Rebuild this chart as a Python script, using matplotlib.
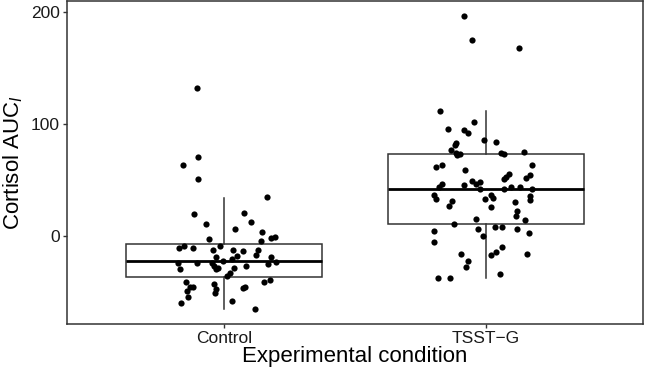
import matplotlib
matplotlib.use("Agg")
import matplotlib.pyplot as plt
import numpy as np

plt.rcParams['font.family'] = ['Liberation Sans', 'DejaVu Sans']
plt.rcParams['mathtext.fontset'] = 'custom'
plt.rcParams['mathtext.rm'] = 'Liberation Sans'
plt.rcParams['mathtext.it'] = 'Liberation Sans:italic'

categories = ["Control", "TSST\u2212G"]

# box statistics (whislo, q1, median, q3, whishi)
control_stats = [-65.6, -37.2, -22.4, -7.2, 34.0]
tsst_stats = [-37.6, 10.5, 42.1, 72.9, 111.6]

# jittered points: horizontal offset and value
control_dx = [-0.103, -0.098, -0.157, -0.098, 0.165, -0.113, 0.076, -0.070, 0.104, 0.044,
              0.146, -0.056, 0.143, 0.179, 0.193, -0.171, -0.151, -0.117, -0.015, -0.042,
              0.033, 0.073, 0.129, 0.122, -0.029, 0.051, 0.032, -0.005, -0.175, -0.103,
              -0.045, -0.038, 0.179, 0.167, 0.197, 0.084, -0.167, -0.024, -0.032, 0.038,
              0.023, 0.010, -0.146, -0.038, 0.152, 0.174, -0.129, -0.118, -0.032, -0.034,
              0.079, 0.072, -0.140, -0.138, -0.165, 0.029, 0.118]
control_y = [132.5, 70.2, 63.0, 51.0, 34.4, 19.2, 20.3, 10.5, 12.0, 6.0,
             3.0, -3.2, -4.7, -2.3, -1.2, -11.0, -9.2, -11.0, -9.2, -12.8,
             -12.5, -13.4, -12.8, -17.5, -18.8, -18.4, -20.9, -22.4, -24.7, -24.4,
             -24.7, -26.9, -19.3, -25.3, -23.5, -26.9, -29.8, -28.9, -29.8, -28.9,
             -33.7, -36.1, -41.7, -43.0, -41.7, -39.4, -46.2, -46.2, -48.0, -51.0,
             -45.9, -46.8, -49.2, -55.1, -60.5, -58.5, -65.9]

tsst_dx = [-0.086, -0.052, 0.127, -0.175, -0.147, -0.046, -0.084, -0.067, -0.009, 0.039,
           -0.114, -0.119, -0.132, -0.116, -0.100, -0.112, 0.056, 0.068, 0.146, -0.192,
           -0.169, 0.176, -0.080, 0.068, 0.076, 0.086, 0.153, 0.169, -0.053, -0.040,
           -0.023, -0.084, -0.169, -0.178, -0.023, 0.070, 0.095, 0.128, 0.174, -0.199,
           -0.192, -0.129, -0.141, -0.003, 0.018, 0.028, 0.018, 0.109, 0.169, 0.166,
           0.119, 0.114, 0.148, -0.037, -0.121, -0.032, 0.033, 0.059, 0.120, 0.165,
           -0.199, -0.199, -0.010, -0.097, -0.068, -0.075, 0.020, 0.039, 0.059, 0.158,
           -0.184, -0.137, 0.052]
tsst_y = [197.0, 174.9, 168.0, 111.9, 95.8, 101.8, 94.4, 92.2, 85.7, 83.6,
          83.0, 81.5, 76.7, 74.3, 73.4, 72.5, 74.3, 73.1, 74.9, 61.5,
          63.0, 63.3, 58.8, 50.8, 52.8, 55.2, 51.4, 54.6, 48.7, 46.6,
          48.1, 45.7, 46.3, 43.3, 42.1, 41.5, 43.9, 43.9, 42.1, 36.4,
          33.1, 31.1, 26.3, 32.9, 36.4, 33.5, 26.0, 30.2, 35.8, 32.2,
          22.1, 17.9, 14.3, 15.0, 10.5, 5.7, 8.1, 8.1, 6.3, 2.7,
          3.9, -5.4, -0.3, -16.1, -22.9, -28.0, -17.5, -14.3, -9.8, -16.4,
          -38.1, -37.6, -34.0]

fig = plt.figure(figsize=(6.46, 3.71), dpi=100)
ax = fig.add_axes([66.7 / 646, (371 - 324) / 371, (643.3 - 66.7) / 646, (324 - 1) / 371])

stats = []
for name, s in zip(categories, [control_stats, tsst_stats]):
    stats.append(dict(label=name, whislo=s[0], q1=s[1], med=s[2], q3=s[3], whishi=s[4], fliers=[]))

edge = '#333333'
ax.bxp(stats, positions=[1, 2], widths=0.75, showfliers=False, showcaps=False,
       patch_artist=True,
       boxprops=dict(facecolor='white', edgecolor=edge, linewidth=1.1),
       whiskerprops=dict(color=edge, linewidth=1.1),
       medianprops=dict(color='black', linewidth=2.0),
       zorder=2)

ax.scatter(1 + np.array(control_dx), control_y, s=20, color='black', zorder=3, linewidths=0)
ax.scatter(2 + np.array(tsst_dx), tsst_y, s=20, color='black', zorder=3, linewidths=0)

ax.set_xlim(0.4, 2.6)
ax.set_ylim(-79.0, 210.1)
ax.set_xticks([1, 2])
ax.set_xticklabels(categories)
ax.set_yticks([0, 100, 200])

for sp in ax.spines.values():
    sp.set_color(edge)
    sp.set_linewidth(1.1)

ax.tick_params(axis='both', length=3, width=1.0, color=edge, labelsize=12.5,
               labelcolor='#1a1a1a', pad=2)

ax.set_xlabel('Experimental condition', fontsize=16, labelpad=0)
ax.set_ylabel('Cortisol AUC$_{I}$', fontsize=16, labelpad=4)

fig.savefig('out.png', dpi=100)
